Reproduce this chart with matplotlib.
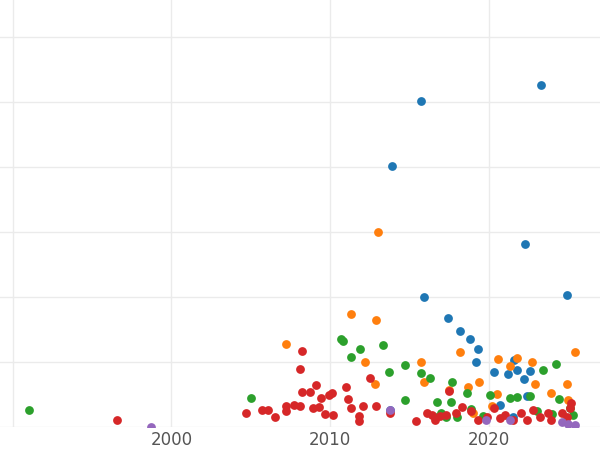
import matplotlib.pyplot as plt

blue_x = [2015.7, 2023.3, 2013.9, 2022.3, 2015.9, 2024.9, 2017.4, 2018.2, 2018.8, 2019.3, 2019.2, 2021.6,
          2021.2, 2020.3, 2021.8, 2022.2, 2022.6, 2022.4, 2013.8, 2020.7, 2021.5]
blue_y = [50.2, 52.6, 40.2, 28.2, 20.0, 20.3, 16.8, 14.8, 13.5, 12.0, 10.0, 10.3,
          8.2, 8.5, 8.8, 7.4, 8.6, 4.8, 2.6, 3.4, 1.5]

orange_x = [2013.0, 2011.3, 2012.9, 2007.2, 2012.2, 2015.7, 2018.2, 2025.4, 2020.6, 2021.8, 2022.7, 2021.3,
            2012.8, 2015.9, 2017.5, 2018.7, 2020.5, 2022.9, 2023.9, 2024.9, 2019.4, 2025.0, 2020.2, 2019.0]
orange_y = [30.0, 17.4, 16.5, 12.8, 10.0, 10.0, 11.5, 11.5, 10.5, 10.6, 10.0, 9.4,
            6.6, 6.9, 5.7, 6.2, 5.1, 6.6, 5.2, 6.6, 6.9, 4.2, 3.3, 2.2]

green_x = [1991.0, 2005.0, 2010.7, 2010.8, 2013.3, 2011.9, 2011.3, 2014.7, 2013.7, 2015.7, 2016.3, 2017.7,
           2023.4, 2024.2, 2014.7, 2016.7, 2017.6, 2018.6, 2020.1, 2021.3, 2021.8, 2022.6, 2024.4, 2025.1,
           2025.3, 2016.6, 2017.0, 2018.0, 2018.9, 2019.6, 2023.0, 2024.0, 2017.3]
green_y = [2.6, 4.5, 13.5, 13.2, 12.6, 12.0, 10.8, 9.5, 8.5, 8.3, 7.5, 6.9,
           8.8, 9.7, 4.2, 3.8, 3.8, 5.2, 4.9, 4.5, 4.6, 4.8, 4.3, 2.9,
           1.8, 1.5, 2.2, 1.6, 2.8, 1.7, 2.5, 2.0, 1.6]

red_x = [1996.6, 2008.2, 2008.1, 2011.0, 2009.1, 2008.7, 2008.2, 2009.9, 2010.1, 2009.4, 2012.5, 2012.9,
         2011.1, 2011.3, 2007.2, 2007.7, 2004.7, 2005.7, 2006.1, 2006.5, 2007.2, 2008.1, 2008.9, 2009.3,
         2009.7, 2010.2, 2011.8, 2011.8, 2012.1, 2013.8, 2015.4, 2016.1, 2016.4, 2016.6, 2016.9, 2017.5,
         2017.3, 2017.9, 2018.3, 2018.9, 2019.3, 2019.9, 2020.3, 2020.7, 2021.0, 2021.5, 2022.0, 2022.4,
         2022.8, 2023.2, 2023.7, 2023.9, 2024.6, 2024.9, 2025.1, 2025.2]
red_y = [1.1, 11.7, 8.9, 6.2, 6.5, 5.4, 5.4, 4.9, 5.2, 4.5, 7.5, 3.2,
         4.3, 2.9, 3.2, 3.4, 2.2, 2.6, 2.6, 1.5, 2.5, 3.2, 2.9, 3.1,
         2.0, 1.8, 1.7, 0.9, 3.2, 2.2, 0.9, 2.2, 1.8, 1.1, 1.7, 5.5,
         1.8, 2.2, 3.1, 2.5, 1.1, 1.5, 2.9, 1.4, 1.8, 1.1, 2.2, 1.1,
         2.6, 1.5, 2.2, 1.1, 2.2, 1.5, 2.9, 3.7]

purple_x = [1998.7, 2013.8, 2019.8, 2021.3, 2024.6, 2025.0, 2025.4]
purple_y = [0.0, 2.6, 1.1, 1.1, 0.8, 0.5, 0.3]

fig = plt.figure(figsize=(6, 4.5), dpi=100)
ax = fig.add_axes([0, 23 / 450, 1, 427 / 450])
for xs, ys, c in [(blue_x, blue_y, '#1f77b4'), (orange_x, orange_y, '#ff7f0e'),
                  (green_x, green_y, '#2ca02c'), (red_x, red_y, '#d62728'),
                  (purple_x, purple_y, '#9467bd')]:
    ax.scatter(xs, ys, s=40, color=c, zorder=3, linewidths=0)

ax.set_xlim(1989.2, 2027.0)
ax.set_ylim(0, 65.7)
ax.set_xticks([1990, 2000, 2010, 2020])
ax.set_xticklabels(['', '2000', '2010', '2020'])
ax.set_yticks([0, 10, 20, 30, 40, 50, 60])
ax.set_yticklabels([])
ax.grid(True, color='#ebebeb', linewidth=1)
ax.tick_params(length=0, labelsize=12, labelcolor='#555555', pad=3)
for s in ax.spines.values():
    s.set_visible(False)
fig.savefig('out.png')
